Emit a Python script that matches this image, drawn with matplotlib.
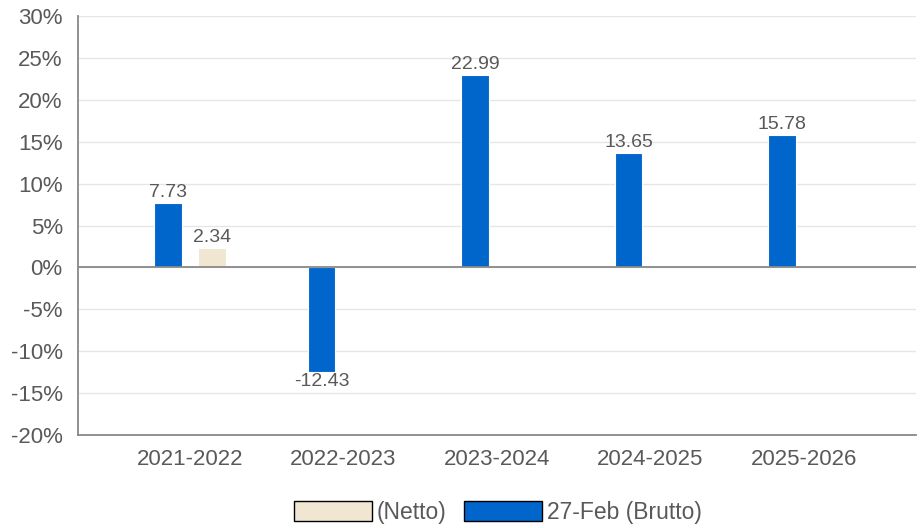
import matplotlib
matplotlib.use("Agg")
import matplotlib.pyplot as plt
import numpy as np
from matplotlib.patches import Patch

plt.rcParams['font.family'] = ['Liberation Sans', 'DejaVu Sans']

categories = ["2021-2022", "2022-2023", "2023-2024", "2024-2025", "2025-2026"]
brutto = [7.73, -12.43, 22.99, 13.65, 15.78]
netto = [2.34, None, None, None, None]
series_names = ["(Netto)", "27-Feb (Brutto)"]
yticks = [-20, -15, -10, -5, 0, 5, 10, 15, 20, 25, 30]

blue = "#0066CC"
beige = "#F0E6D2"
txt = "#595959"

fig = plt.figure(figsize=(9.22, 5.28), dpi=100)
ax = fig.add_axes([0.0846, 0.1761, 0.9089, 0.7936])

x = np.arange(len(categories))
w = 0.178
off = 0.143
for i, v in enumerate(brutto):
    ax.bar(x[i] - off, v, width=w, color=blue, edgecolor="white", linewidth=0.8, zorder=3)
    if v >= 0:
        ax.text(x[i] - off, v + 0.2, f"{v:.2f}", ha="center", va="bottom", fontsize=14, color=txt)
    else:
        ax.text(x[i] - off, v - 0.2, f"{v:.2f}", ha="center", va="top", fontsize=14, color=txt)
for i, v in enumerate(netto):
    if v is None:
        continue
    ax.bar(x[i] + off, v, width=w, color=beige, edgecolor="white", linewidth=0.8, zorder=3)
    ax.text(x[i] + off, v + 0.2, f"{v:.2f}", ha="center", va="bottom", fontsize=14, color=txt)

ax.set_xlim(-0.73, 4.73)
ax.set_ylim(-20, 30)
ax.set_yticks(yticks)
ax.set_yticklabels([f"{t}%" for t in yticks])
ax.set_xticks(x)
ax.set_xticklabels(categories)
ax.tick_params(axis='both', length=0, labelsize=16, colors=txt)
ax.tick_params(axis='x', pad=10)
ax.tick_params(axis='y', pad=11)
ax.grid(axis='y', color="#E6E6E6", linewidth=1, zorder=0)
ax.axhline(0, color="#888888", linewidth=1.3, zorder=4)
for s in ["top", "right"]:
    ax.spines[s].set_visible(False)
for s in ["left", "bottom"]:
    ax.spines[s].set_color("#888888")
    ax.spines[s].set_linewidth(1.3)

handles = [Patch(facecolor=beige, edgecolor="black", linewidth=1),
           Patch(facecolor=blue, edgecolor="black", linewidth=1)]
fig.legend(handles, series_names, loc="center", bbox_to_anchor=(0.54, 0.03), ncol=2,
           frameon=False, fontsize=16.5, handlelength=3.4, handleheight=1.0,
           handletextpad=0.2, columnspacing=0.8, labelcolor=txt)

fig.savefig("out.png", dpi=100)
